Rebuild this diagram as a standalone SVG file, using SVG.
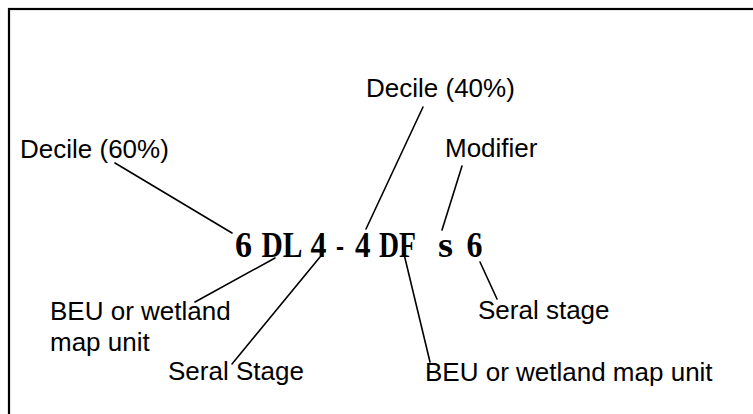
<svg xmlns="http://www.w3.org/2000/svg" width="753" height="414" viewBox="0 0 753 414">
  <style>
    .label { font-family: "Liberation Sans", Arial, sans-serif; font-size: 26px; fill: #000; }
    .code { font-family: "Liberation Serif", "Times New Roman", serif; font-size: 35px; font-weight: bold; fill: #000; }
    .lead { stroke: #000; stroke-width: 1.6; fill: none; stroke-linecap: round; }
  </style>
  <rect x="0" y="0" width="753" height="414" fill="#fff"/>
  <!-- frame: only top and left edges fall inside the page -->
  <rect x="9" y="9" width="760" height="420" fill="none" stroke="#000" stroke-width="2.2"/>

  <!-- the map code -->
  <g id="code">
    <text class="code" x="235" y="257" textLength="17" lengthAdjust="spacingAndGlyphs">6</text>
    <text class="code" x="261.5" y="257" textLength="41" lengthAdjust="spacingAndGlyphs">DL</text>
    <text class="code" x="310.5" y="257" textLength="16" lengthAdjust="spacingAndGlyphs">4</text>
    <text class="code" x="336" y="257" textLength="8" lengthAdjust="spacingAndGlyphs">-</text>
    <text class="code" x="355" y="257" textLength="15.5" lengthAdjust="spacingAndGlyphs">4</text>
    <text class="code" x="379" y="257" textLength="37" lengthAdjust="spacingAndGlyphs">DF</text>
    <text class="code" x="438" y="257" textLength="15" lengthAdjust="spacingAndGlyphs">s</text>
    <text class="code" x="466.5" y="257" textLength="16" lengthAdjust="spacingAndGlyphs">6</text>
  </g>

  <g id="decile60"><text class="label" x="20" y="158">Decile (60%)</text></g>
  <g id="decile40"><text class="label" x="366" y="97">Decile (40%)</text></g>
  <g id="modifier"><text class="label" x="445" y="157">Modifier</text></g>
  <g id="beu1">
    <text class="label" x="50" y="320">BEU or wetland</text>
    <text class="label" x="50" y="351">map unit</text>
  </g>
  <g id="seral1"><text class="label" x="168" y="380">Seral Stage</text></g>
  <g id="beu2"><text class="label" x="425" y="381">BEU or wetland map unit</text></g>
  <g id="seral2"><text class="label" x="478" y="319">Seral stage</text></g>

  <g id="connectors">
    <line class="lead" x1="115" y1="163" x2="232" y2="233"/>
    <line class="lead" x1="423" y1="107" x2="366" y2="229"/>
    <line class="lead" x1="462" y1="166" x2="442" y2="230"/>
    <line class="lead" x1="275" y1="258" x2="195" y2="302"/>
    <line class="lead" x1="320" y1="257" x2="232" y2="364"/>
    <line class="lead" x1="404" y1="254" x2="430" y2="362"/>
    <line class="lead" x1="480" y1="262" x2="497" y2="299"/>
  </g>
</svg>
